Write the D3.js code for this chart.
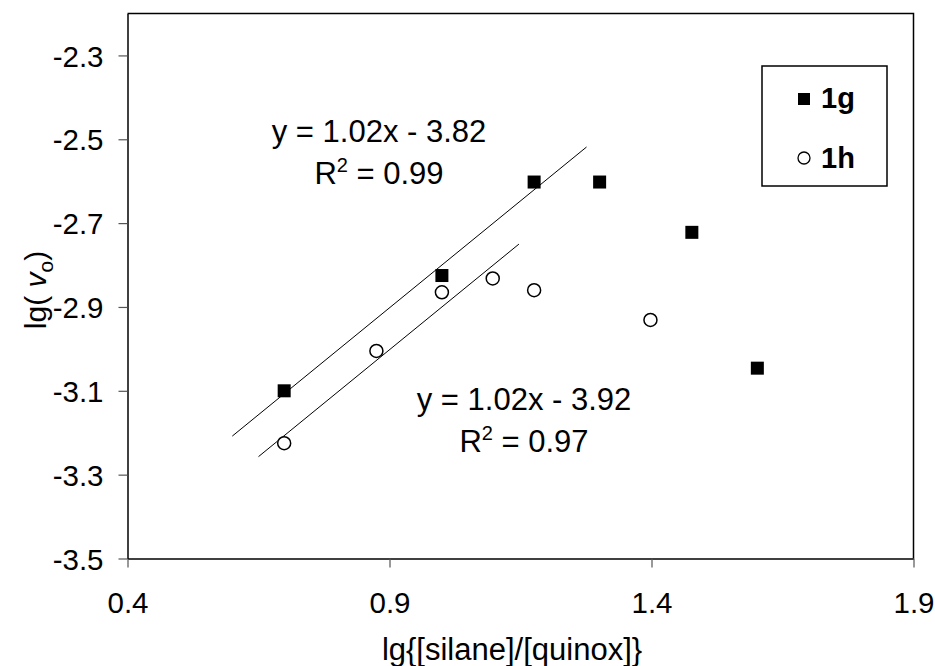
<!DOCTYPE html>
<html>
<head>
<meta charset="utf-8">
<script src="https://cdn.jsdelivr.net/npm/d3@7"></script>
<style>
    body { margin: 0; background: #fff; }
    svg text { font-family: Arial, "Liberation Sans", sans-serif; fill: #000; }
</style>
</head>
<body>
<div class="plot"></div>
<script>
const width = 935;
const height = 666;
const margin = { top: 13.5, right: 21.5, bottom: 107.5, left: 127.5 };

// series 1g (filled squares)
const x1g = [0.699, 1.0, 1.176, 1.301, 1.477, 1.602];
const y1g = [-3.10, -2.825, -2.602, -2.602, -2.722, -3.046];
// series 1h (open circles)
const x1h = [0.699, 0.875, 1.0, 1.097, 1.176, 1.398];
const y1h = [-3.225, -3.005, -2.865, -2.832, -2.86, -2.931];

// linear fits
const fitSlope = [1.02, 1.02];
const fitIntercept = [-3.82, -3.92];
const fitFrom = [0.6, 0.65];
const fitTo = [1.276, 1.147];
const fitEq = ["y = 1.02x - 3.82", "y = 1.02x - 3.92"];
const fitR2 = ["0.99", "0.97"];

const xTicks = [0.4, 0.9, 1.4, 1.9];
const yTicks = [-3.5, -3.3, -3.1, -2.9, -2.7, -2.5, -2.3];
const seriesNames = ["1g", "1h"];

const svg = d3
    .select(".plot")
    .append("svg")
    .attr("width", width)
    .attr("height", height);

const xScale = d3
    .scaleLinear()
    .domain([0.4, 1.9])
    .range([margin.left, width - margin.right]);

const yScale = d3
    .scaleLinear()
    .domain([-3.5, -2.2])
    .range([height - margin.bottom, margin.top]);

// frame: top and right
svg.append("path")
    .attr("d", `M${margin.left},${margin.top}H${width - margin.right}V${height - margin.bottom}`)
    .attr("fill", "none")
    .attr("stroke", "#000")
    .attr("stroke-width", 1.5);

const fmt = (d) => d.toFixed(1); // plain hyphen minus

const xAxis = svg
    .append("g")
    .attr("transform", `translate(0, ${height - margin.bottom})`)
    .call(d3.axisBottom(xScale).tickValues(xTicks).tickFormat(fmt).tickSize(9).tickSizeOuter(0));

const yAxis = svg
    .append("g")
    .attr("transform", `translate(${margin.left}, 0)`)
    .call(d3.axisLeft(yScale).tickValues(yTicks).tickFormat(fmt).tickSize(9).tickSizeOuter(0));

[xAxis, yAxis].forEach((ax) => {
    ax.select(".domain").attr("stroke-width", 1.5);
    ax.selectAll(".tick line").attr("stroke", "#555").attr("stroke-width", 1.2);
    ax.selectAll(".tick text")
        .style("font-family", "Arial, 'Liberation Sans', sans-serif")
        .style("font-size", "29.5px");
});
xAxis.selectAll(".tick text").attr("y", 54).attr("dy", 0);
yAxis.selectAll(".tick text").attr("x", -24).attr("dy", "0.36em");

// axis titles
svg.append("text")
    .attr("x", 512)
    .attr("y", 660)
    .attr("text-anchor", "middle")
    .style("font-size", "31px")
    .text("lg{[silane]/[quinox]}");

const yTitle = svg
    .append("text")
    .attr("transform", `translate(46, 290) rotate(-90)`)
    .attr("text-anchor", "middle")
    .style("font-size", "30px");
yTitle.append("tspan").text("lg( ");
yTitle.append("tspan").style("font-style", "italic").text("v");
yTitle.append("tspan").attr("dy", 7).style("font-size", "21px").text("o");
yTitle.append("tspan").attr("dy", -7).text(")");

// fit lines
fitSlope.forEach((m, i) => {
    const line = [fitFrom[i], fitTo[i]].map((x) => [xScale(x), yScale(m * x + fitIntercept[i])]);
    svg.append("path")
        .attr("d", d3.line()(line))
        .attr("stroke", "#000")
        .attr("stroke-width", 1)
        .attr("fill", "none");
});

// fit labels
const labelPos = [[379, 142], [524, 410]];
fitEq.forEach((eq, i) => {
    svg.append("text")
        .attr("x", labelPos[i][0])
        .attr("y", labelPos[i][1])
        .attr("text-anchor", "middle")
        .style("font-size", "31px")
        .text(eq);
    const r = svg.append("text")
        .attr("x", labelPos[i][0])
        .attr("y", labelPos[i][1] + 42)
        .attr("text-anchor", "middle")
        .style("font-size", "31px");
    r.append("tspan").text("R");
    r.append("tspan").attr("dy", -12).style("font-size", "20px").text("2");
    r.append("tspan").attr("dy", 12).text(" = " + fitR2[i]);
});

// points
svg.selectAll(".sq")
    .data(x1g)
    .join("rect")
    .attr("class", "sq")
    .attr("x", (d) => xScale(d) - 6.5)
    .attr("y", (d, i) => yScale(y1g[i]) - 6.5)
    .attr("width", 13)
    .attr("height", 13)
    .attr("fill", "#000");

svg.selectAll(".ci")
    .data(x1h)
    .join("circle")
    .attr("class", "ci")
    .attr("cx", (d) => xScale(d))
    .attr("cy", (d, i) => yScale(y1h[i]))
    .attr("r", 6.5)
    .attr("fill", "#fff")
    .attr("stroke", "#000")
    .attr("stroke-width", 1.5);

// legend
const legend = svg.append("g").attr("transform", "translate(762, 66)");
legend.append("rect")
    .attr("width", 125)
    .attr("height", 120)
    .attr("fill", "#fff")
    .attr("stroke", "#000")
    .attr("stroke-width", 1.5);
legend.append("rect")
    .attr("x", 36)
    .attr("y", 27)
    .attr("width", 12)
    .attr("height", 12)
    .attr("fill", "#000");
legend.append("circle")
    .attr("cx", 42)
    .attr("cy", 92)
    .attr("r", 6)
    .attr("fill", "#fff")
    .attr("stroke", "#000")
    .attr("stroke-width", 1.3);
legend.selectAll(".lt")
    .data(seriesNames)
    .join("text")
    .attr("class", "lt")
    .attr("x", 59)
    .attr("y", (d, i) => 42 + i * 60)
    .style("font-size", "29px")
    .style("font-weight", "bold")
    .text((d) => d);
</script>
</body>
</html>
